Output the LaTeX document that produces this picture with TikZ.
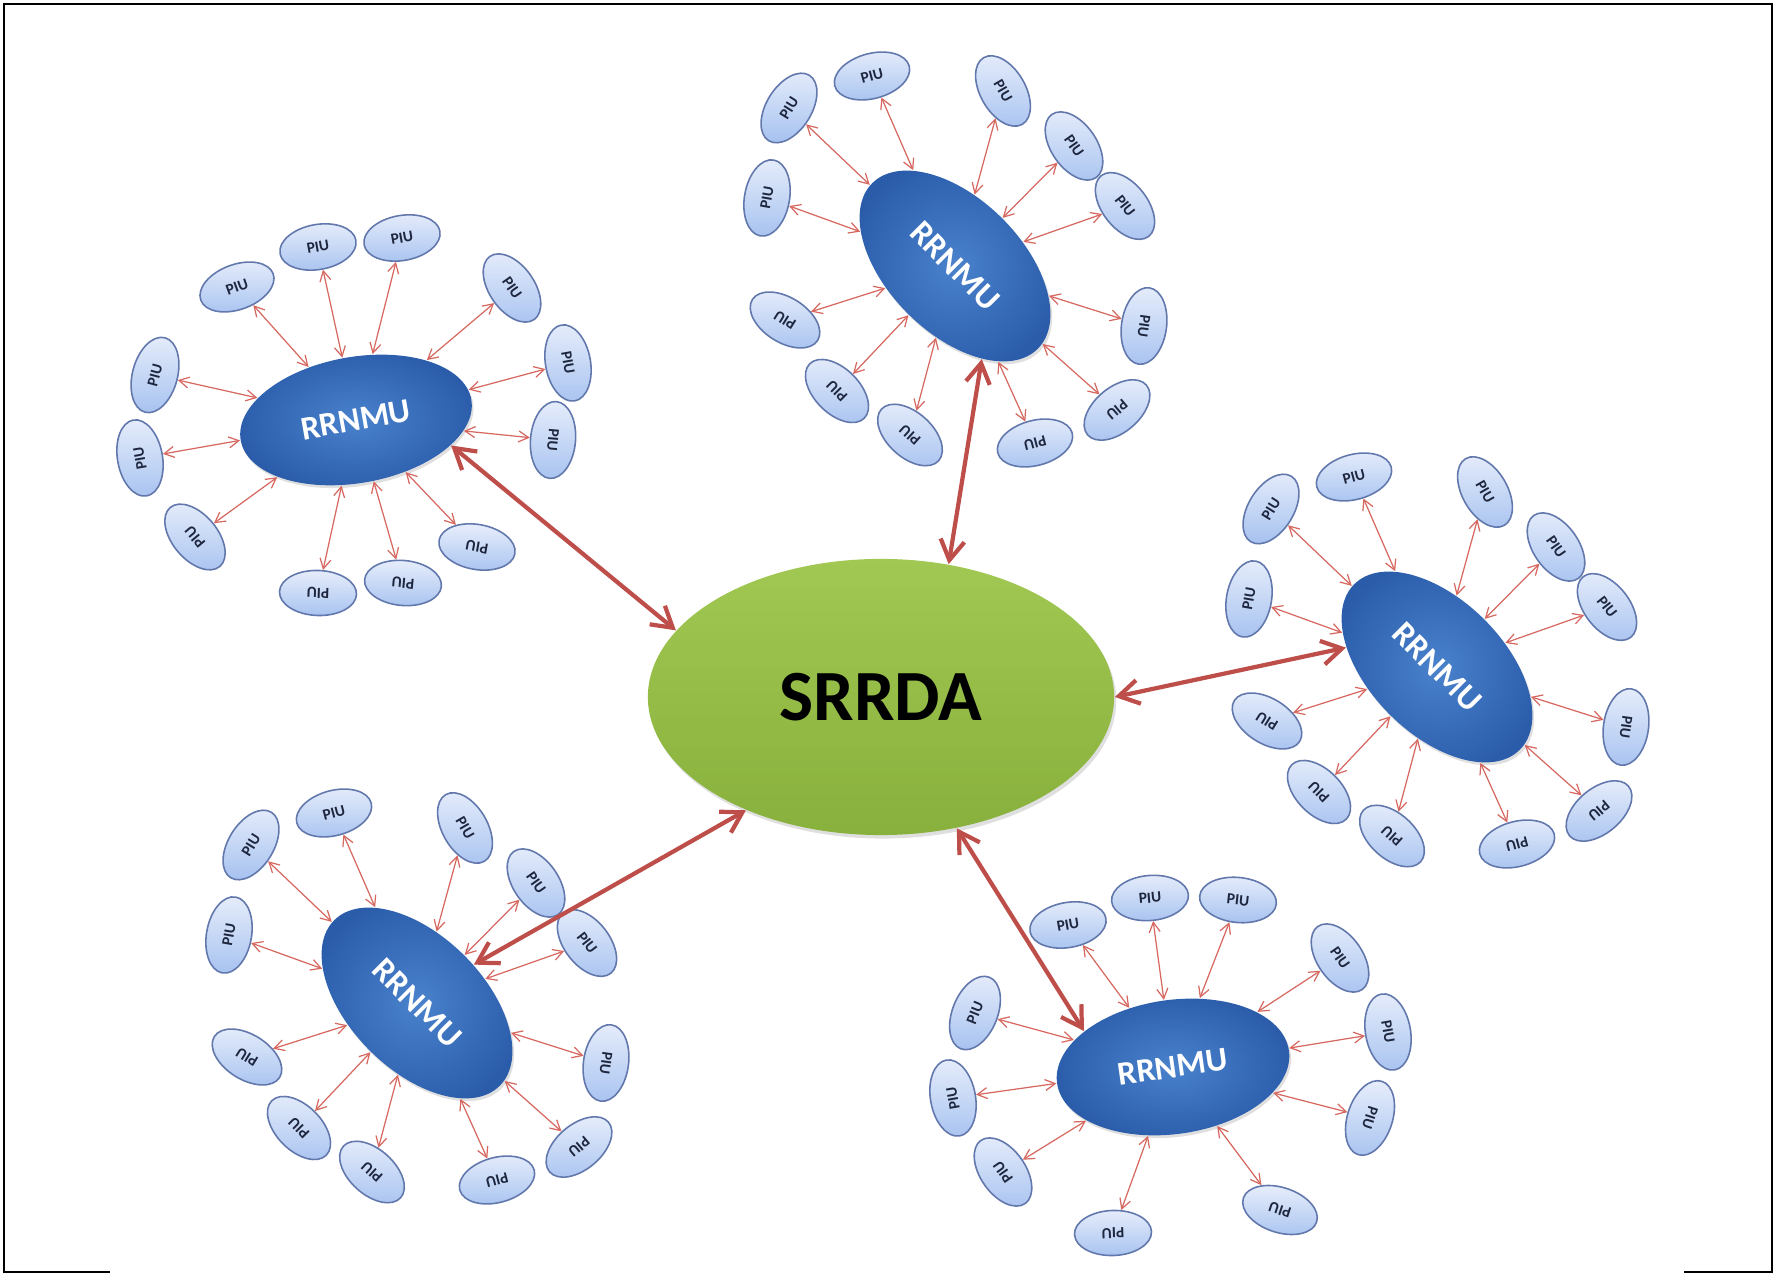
\documentclass[tikz,border=0pt]{standalone}
\usepackage{fontspec}
\setmainfont{Carlito}
\usetikzlibrary{arrows.meta,shapes.geometric,shadows}

\definecolor{piutop}{RGB}{230,237,251}
\definecolor{piubot}{RGB}{168,195,240}
\definecolor{piuline}{RGB}{98,120,172}
\definecolor{piutext}{RGB}{30,38,62}
\definecolor{unitin}{RGB}{74,130,204}
\definecolor{unitout}{RGB}{42,92,170}
\definecolor{agtop}{RGB}{160,200,82}
\definecolor{agbot}{RGB}{136,176,60}
\definecolor{bigred}{RGB}{190,78,74}
\definecolor{thinred}{RGB}{214,104,96}

\begin{document}
\begin{tikzpicture}[
		x=0.01cm, y=-0.01cm,
		piu/.style={ ellipse, draw=piuline, line width=0.45pt, top color=piutop, bottom color=piubot,
			minimum width=0.77cm, minimum height=0.45cm, inner sep=0pt, text=piutext,
			font=\fontsize{4.4}{5}\selectfont\bfseries, },
		rrnmu/.style={ ellipse, inner color=unitin, outer color=unitout, minimum width=2.34cm,
			minimum height=1.34cm, inner sep=0pt, text=white,
			font=\fontsize{9.5}{10}\selectfont\bfseries,
			drop shadow={opacity=.25, shadow xshift=.5pt, shadow yshift=-.8pt}, },
		srrda/.style={ ellipse, top color=agtop, bottom color=agbot, minimum width=4.66cm,
			minimum height=2.76cm, inner sep=0pt, text=black,
			font=\fontsize{20.5}{24}\selectfont\bfseries,
			drop shadow={opacity=.25, shadow xshift=.6pt, shadow yshift=-1pt}, },
		link/.style={ >={Straight Barb[length=1mm,width=1.1mm]}, <->, draw=thinred, line width=.35pt, },
		bigarrow/.style={ >={Straight Barb[length=2mm,width=2.4mm]}, <->, draw=bigred, line width=1.2pt, },
		]
		
		\useasboundingbox (0,0) rectangle (1775,1274);
		\draw[line width=.6pt] (110,1272) -- (4,1272) -- (4,4) -- (1772,4) -- (1772,1272) -- (1684,1272);
		
		\node[srrda](s) at (881,697){SRRDA};
		
		% upper left unit
		\node[rrnmu,rotate=10,minimum height=1.26cm](tl) at (356,420){RRNMU};
		\foreach \dx/\dy/\r [count=\i] in {-119/-133/20, -38/-173/10, 46/-182/10, 156/-132/-55,
				212/-57/-80, 197/20/-95, 121/127/170, 47/163/175, -38/173/178, -161/117/130,
				-216/38/100, -201/-45/75}{
			\node[piu,rotate=\r](tl\i) at (356+\dx,420+\dy){PIU};
			\draw[link](tl\i)--(tl);
		}
		
		% the three upright units
		\foreach \c/\cx/\cy in {tp/955/266, rt/1437/667, bl/417/1003}{
			\node[rrnmu,rotate=-45](\c) at (\cx,\cy){RRNMU};
			\foreach \dx/\dy/\r [count=\i] in {-83/-190/15, -166/-158/58, -188/-68/80, 48/-175/-60,
					119/-120/-55, 170/-60/-52, 189/60/-98, 162/144/-140, 80/177/-165,
					-45/169/138, -118/125/135, -170/54/148}{
				\node[piu,rotate=\r](\c\i) at (\cx+\dx,\cy+\dy){PIU};
				\draw[link](\c\i)--(\c);
			}
		}
		
		% bottom unit
		\node[rrnmu,rotate=8](bt) at (1173,1067){RRNMU};
		\foreach \dx/\dy/\r [count=\i] in {-105/-142/10, -23/-169/5, 65/-167/-6, 167/-109/-55,
				215/-35/-80, 197/51/-108, 107/143/162, -60/166/-178, -170/105/125,
				-220/31/100, -198/-54/68}{
			\node[piu,rotate=\r](bt\i) at (1173+\dx,1067+\dy){PIU};
			\draw[link](bt\i)--(bt);
		}
		
		\draw[bigarrow](tl.-25)--(s.162);
		\draw[bigarrow](tp.-29)--(s.63);
		\draw[bigarrow](s.0)--(rt.213);
		\draw[bigarrow](s.220)--(bl.79);
		\draw[bigarrow](s.-60)--(bt.150);
	\end{tikzpicture}
\end{document}
